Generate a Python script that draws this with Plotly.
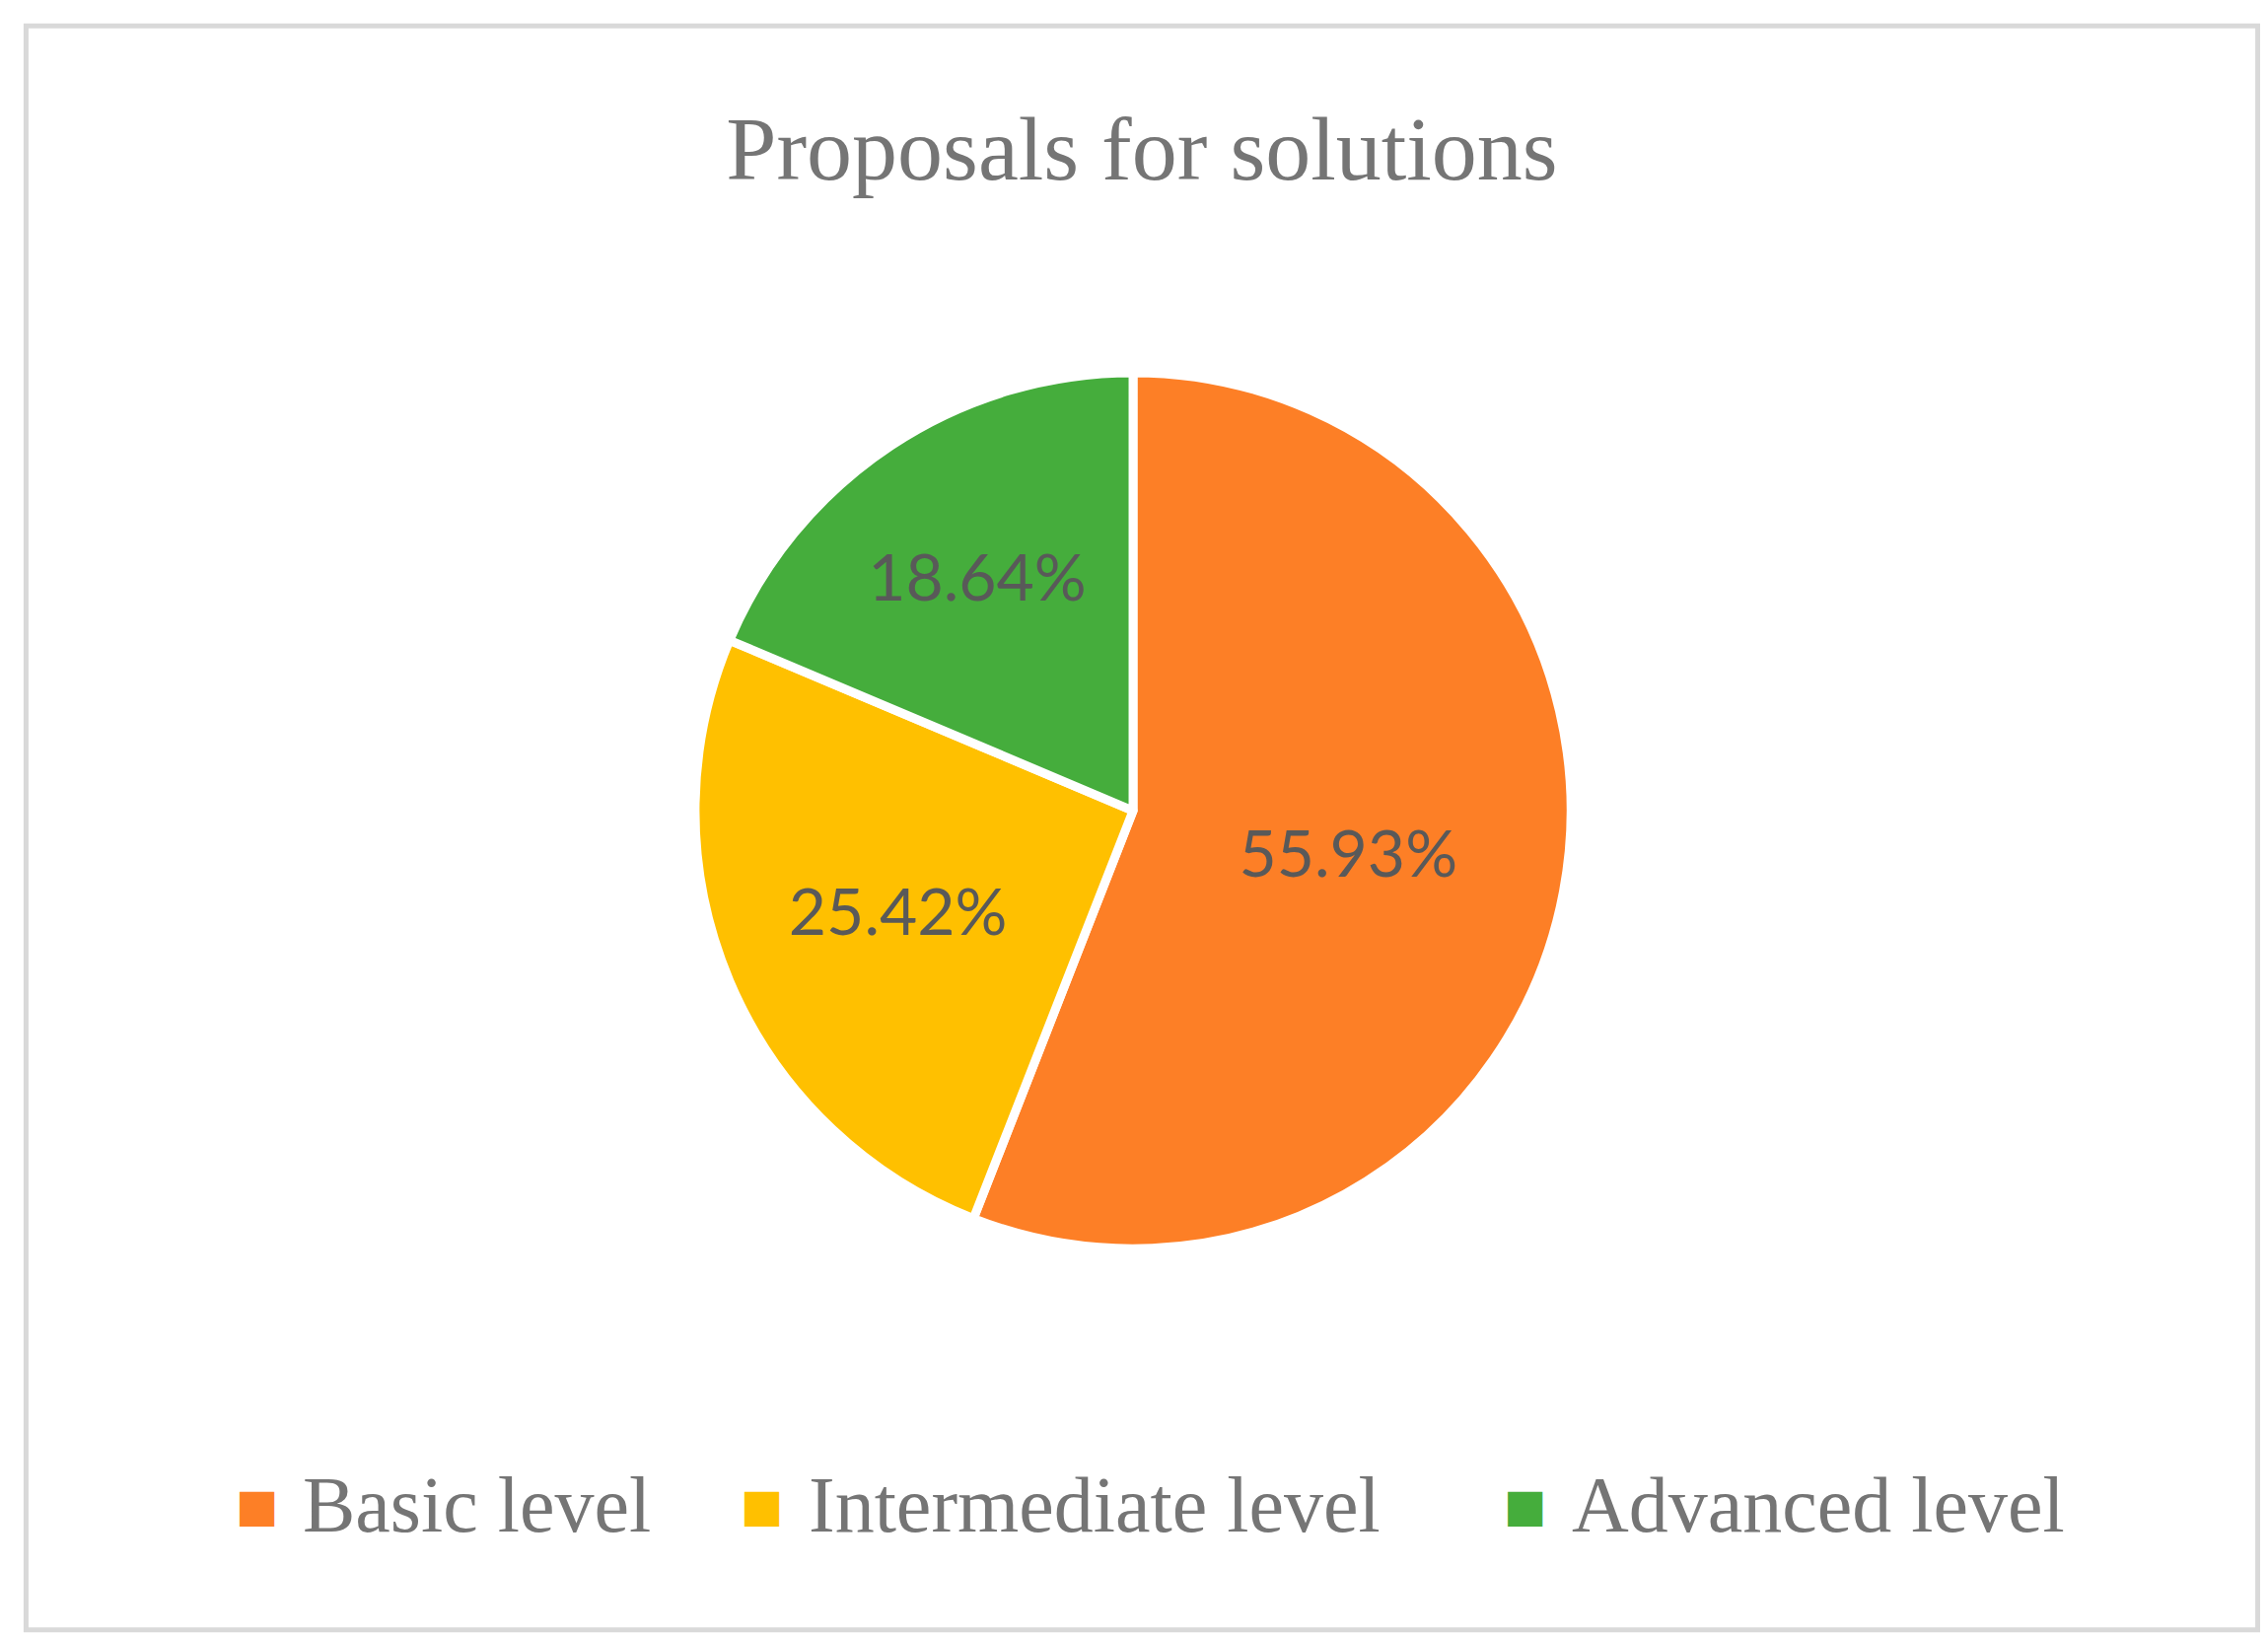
import plotly.graph_objects as go

categories = ["Basic level", "Intermediate level", "Advanced level"]
values = [55.93, 25.42, 18.64]
colors = ["#FD7F26", "#FFC000", "#45AD3C"]

fig = go.Figure(go.Pie(
    labels=categories, values=values, sort=False, direction="clockwise", rotation=0,
    marker=dict(colors=colors, line=dict(color="white", width=9)),
    texttemplate="%{value:.2f}%", textposition="inside", insidetextorientation="horizontal",
    textfont=dict(family="Lato", size=66, color="#595959"),
    domain=dict(x=[0.303, 0.6892], y=[0.243, 0.778]),
    hoverinfo="label+value", showlegend=False,
))

# legend drawn as annotations (larger squares, like the reference)
sq_x = [172, 520, 1046]
tx_x = [202, 551, 1077]
annotations = []
for i, name in enumerate(categories):
    annotations.append(dict(text="■", x=sq_x[i] / 1564, y=0.087, xref="paper", yref="paper",
                            xanchor="center", yanchor="middle", showarrow=False,
                            font=dict(family="DejaVu Sans", size=46, color=colors[i])))
    annotations.append(dict(text=name, x=tx_x[i] / 1564, y=0.087, xref="paper", yref="paper",
                            xanchor="left", yanchor="middle", showarrow=False,
                            font=dict(family="Liberation Serif", size=80, color="#757575")))

fig.update_layout(
    width=2300, height=1663, margin=dict(l=0, r=0, t=0, b=0),
    paper_bgcolor="white",
    title=dict(text="Proposals for solutions", x=0.5, xanchor="center", y=0.915, yanchor="middle",
               font=dict(family="Liberation Serif", size=92, color="#757575")),
    annotations=annotations,
    shapes=[dict(type="rect", xref="paper", yref="paper", x0=0.008, x1=0.992, y0=0.011, y1=0.989,
                 line=dict(color="#D9D9D9", width=5))],
)
fig.write_html("out.html")
